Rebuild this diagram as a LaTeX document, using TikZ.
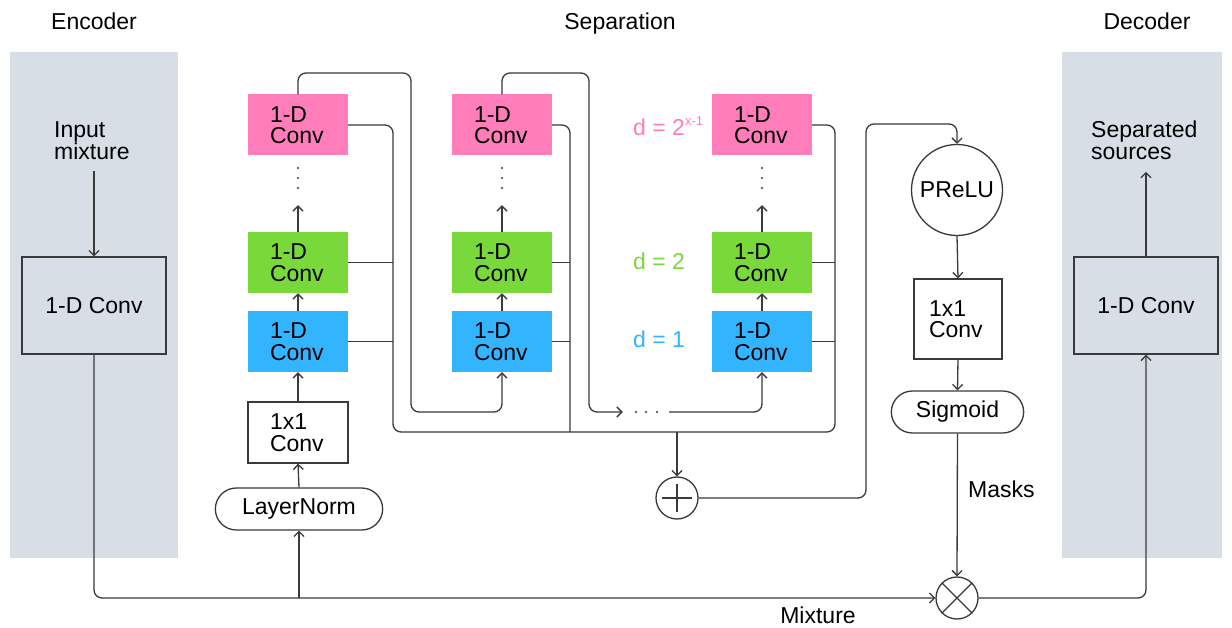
\documentclass[tikz,border=0pt]{standalone}
\usepackage{fontspec}
\setmainfont{Liberation Sans}
\usetikzlibrary{arrows.meta,shapes.misc,calc}
\definecolor{panel}{HTML}{D8DEE5}
\definecolor{cpink}{HTML}{FF7EB9}
\definecolor{cgreen}{HTML}{7AD93A}
\definecolor{cblue}{HTML}{33B4FF}
\definecolor{lnc}{HTML}{3A3A3A}
\begin{document}
\begin{tikzpicture}[x=1pt,y=-1pt,
  font=\fontsize{23}{21.5}\selectfont,
  wire/.style={draw=lnc, line width=1.3pt, rounded corners=8pt},
  arr/.style={wire, -{Straight Barb[length=5pt,width=10pt,line width=1.3pt]}},
  conv/.style={rectangle, inner xsep=22pt, inner ysep=0pt, text width=56pt, minimum height=61pt, align=left},
  pinkbox/.style={conv, fill=cpink},
  greenbox/.style={conv, fill=cgreen},
  bluebox/.style={conv, fill=cblue},
  outbox/.style={conv, draw=lnc, line width=1.3pt, fill=white},
  pill/.style={rounded rectangle, draw=lnc, line width=1.3pt, minimum height=42pt, inner ysep=0pt, fill=white},
  encbox/.style={rectangle, draw=lnc, line width=1.3pt, minimum width=144pt, minimum height=97pt},
  title/.style={anchor=base, inner sep=0pt},
  lab/.style={anchor=base west, inner sep=0pt},
  ops/.style={circle, draw=lnc, line width=1.3pt, minimum size=42pt, inner sep=0pt, fill=white},
  vdots/.style={minimum height=54pt, minimum width=4pt, inner sep=0pt},
  hdots/.style={minimum width=46pt, minimum height=4pt, inner sep=0pt},
]
\useasboundingbox (0,0) rectangle (1232,628);
\fill[white] (0,0) rectangle (1232,628);

% panels
\fill[panel] (10,52) rectangle (178,558);
\fill[panel] (1062,52) rectangle (1222,558);

% titles
\node[title] (tEnc) at (94,30) {Encoder};
\node[title] (tSep) at (620,30) {Separation};
\node[title] (tDec) at (1147,30) {Decoder};

% encoder
\node[anchor=west, inner sep=0pt, align=left] (inmix) at (54,140.5) {Input\\mixture};
\node[encbox] (enc) at (94,305.5) {1-D Conv};

% decoder
\node[anchor=west, inner sep=0pt, align=left] (sepsrc) at (1091,140.5) {Separated\\sources};
\node[encbox] (dec) at (1146,305.5) {1-D Conv};

% column 1
\node[pinkbox]  (p1) at (298,125) {1-D\\Conv};
\node[vdots]    (vd1) at (298,178) {};
\node[greenbox] (g1) at (298,262.5) {1-D\\Conv};
\node[bluebox]  (b1) at (298,341.5) {1-D\\Conv};
\node[outbox]   (c1) at (298,432.5) {1x1\\Conv};
\node[pill, minimum width=174pt] (lnorm) at (299,509) {LayerNorm};

% column 2
\node[pinkbox]  (p2) at (502,125) {1-D\\Conv};
\node[vdots]    (vd2) at (502,178) {};
\node[greenbox] (g2) at (502,262.5) {1-D\\Conv};
\node[bluebox]  (b2) at (502,341.5) {1-D\\Conv};

% column 3
\node[pinkbox]  (p3) at (762,125) {1-D\\Conv};
\node[vdots]    (vd3) at (762,178) {};
\node[greenbox] (g3) at (762,262.5) {1-D\\Conv};
\node[bluebox]  (b3) at (762,341.5) {1-D\\Conv};

% dilation labels
\node[lab, text=cpink]  (dx) at (633,136) {d = 2\raisebox{0.45em}{\fontsize{13}{13}\selectfont x-1}};
\node[lab, text=cgreen] (d2) at (633,270) {d = 2};
\node[lab, text=cblue]  (d1) at (633,348) {d = 1};

% horizontal dots
\node[hdots] (hd) at (646,412) {};

% ops
\node[ops] (plus) at (677,498) {};
\node[ops] (mult) at (957,598) {};
\node[circle, draw=lnc, line width=1.3pt, minimum size=91pt, inner sep=0pt] (prelu) at (957,190) {PReLU};
\node[rectangle, draw=lnc, line width=1.3pt, inner xsep=15pt, inner ysep=0pt, text width=58pt, minimum height=80pt, align=left] (c2) at (958,319) {1x1\\Conv};
\node[pill, minimum width=139pt] (sig) at (957.5,412) {Sigmoid};

\node[lab] (masks) at (968,497) {Masks};
\node[title] (mixl) at (818,623) {Mixture};

% plus / times glyphs
\draw[lnc, line width=2pt] ($(plus.center)+(0,-14)$) -- ($(plus.center)+(0,14)$);
\draw[lnc, line width=2pt] ($(plus.center)+(-15,0)$) -- ($(plus.center)+(15,0)$);
\draw[lnc, line width=1.3pt] (mult.north east) -- (mult.south west);
\draw[lnc, line width=1.3pt] (mult.north west) -- (mult.south east);

% dots
\foreach \n in {vd1,vd2,vd3}{
  \foreach \dy in {-10,0,10} \fill[lnc] ($(\n.center)+(0,\dy)$) circle (1.2pt);
}
\foreach \dx in {-10,0,11} \fill[lnc] ($(hd.center)+(\dx,0)$) circle (1.2pt);

% coordinates for routing
\coordinate (s1a) at (411,73);
\coordinate (s1b) at (411,412);
\coordinate (s2a) at (589,73);
\coordinate (s2b) at (589,412);
\coordinate (busL) at (393,432);
\coordinate (bus2) at (570,432);
\coordinate (busR) at (835,432);
\coordinate (fb) at (866,124);
\coordinate (mixtap) at (lnorm.south |- mult.west);

% encoder flow
\draw[arr, shorten <=12pt] (enc.north |- inmix.south) -- (enc.north);
\draw[arr] (enc.south) |- (mult.west);
\draw[arr] (mixtap) -- (lnorm.south);

% column 1 chain
\draw[arr] (lnorm.north) -- (c1.south);
\draw[arr] (c1.north) -- (b1.south);
\draw[arr] (b1.north) -- (g1.south);
\draw[arr] (g1.north) -- (vd1.south);
% column 2 chain
\draw[arr] (b2.north) -- (g2.south);
\draw[arr] (g2.north) -- (vd2.south);
% column 3 chain
\draw[arr] (b3.north) -- (g3.south);
\draw[arr] (g3.north) -- (vd3.south);

% skip (residual) paths between blocks
\draw[arr] (p1.north) |- (s1a) -- (s1b) -| (b2.south);
\draw[arr] (p2.north) |- (s2a) -- (s2b) -- (hd.west);
\draw[arr] (hd.east) -| (b3.south);

% output bus
\draw[wire] (p1.east) -| (busL) -- (busR) |- (p3.east);
\draw[wire] (g1.east) -- (g1.east -| busL);
\draw[wire] (b1.east) -- (b1.east -| busL);
\draw[wire] (p2.east) -| (bus2);
\draw[wire] (g2.east) -- (g2.east -| bus2);
\draw[wire] (b2.east) -- (b2.east -| bus2);
\draw[wire] (g3.east) -- (g3.east -| busR);
\draw[wire] (b3.east) -- (b3.east -| busR);
\draw[arr] (plus.north |- busL) -- (plus.north);

% mask branch
\draw[arr] (plus.east) -| (fb) -| (prelu.north);
\draw[arr] (prelu.south) -- (c2.north);
\draw[arr] (c2.south) -- (sig.north);
\draw[arr] (sig.south) -- (mult.north);

% decoder
\draw[arr] (mult.east) -| (dec.south);
\draw[arr, shorten >=12pt] (dec.north) -- (dec.north |- sepsrc.south);
\end{tikzpicture}
\end{document}
